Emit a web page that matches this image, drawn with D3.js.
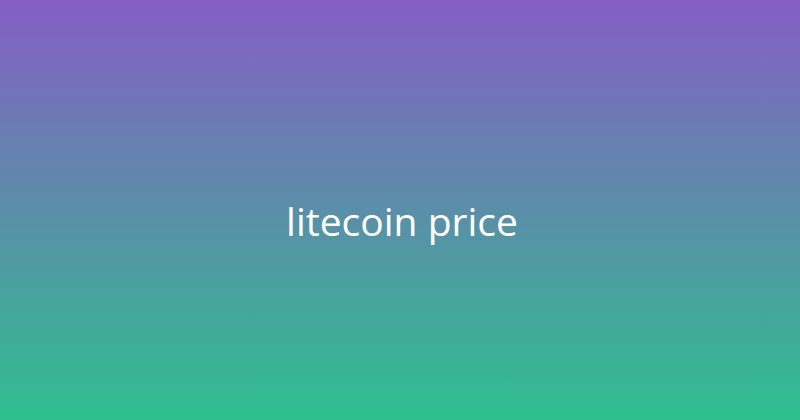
<!DOCTYPE html>
<html>
<head>
<meta charset="utf-8">
<script src="https://cdn.jsdelivr.net/npm/d3@7"></script>
<style>
  html, body { margin: 0; padding: 0; overflow: hidden; }
</style>
</head>
<body>
<div id="chart"></div>
<script>
const titles = ["litecoin price"];
const stopOffsets = [0, 1];
const stopColors = ["#855ec4", "#2fbf8e"];

const width = 800;
const height = 420;

const svg = d3.select("#chart")
    .append("svg")
    .attr("width", width)
    .attr("height", height);

// background gradient
const grad = svg.append("defs")
    .append("linearGradient")
    .attr("id", "bg")
    .attr("x1", 0).attr("y1", 0)
    .attr("x2", 0).attr("y2", 1);

grad.selectAll("stop")
    .data(stopOffsets)
    .enter()
    .append("stop")
    .attr("offset", d => d)
    .attr("stop-color", (d, i) => stopColors[i]);

svg.append("rect")
    .attr("width", width)
    .attr("height", height)
    .attr("fill", "url(#bg)");

// title
svg.selectAll("text.title")
    .data(titles)
    .enter()
    .append("text")
    .attr("class", "title")
    .attr("x", width / 2 + 2)
    .attr("y", 236)
    .attr("text-anchor", "middle")
    .style("font-family", "'Open Sans', sans-serif")
    .style("font-size", "39px")
    .style("fill", "#ffffff")
    .text(d => d);
</script>
</body>
</html>
